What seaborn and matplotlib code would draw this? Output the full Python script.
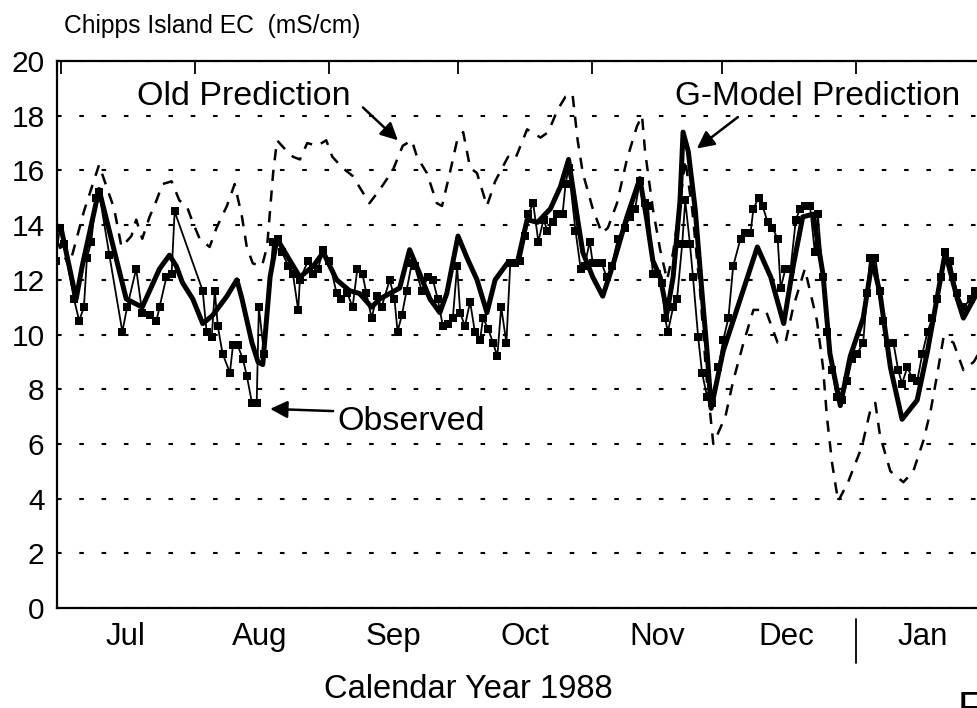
import numpy as np
import pandas as pd
import matplotlib
matplotlib.use('Agg')
import matplotlib.pyplot as plt
import matplotlib.transforms as mtransforms
import seaborn as sns

# x values are days after 1 July 1988
obs_day = [-1.2, -0.3, 0.7, 3.0, 4.2, 5.3, 6.0, 7.0, 8.1, 8.8, 11.2, 14.2, 15.3, 17.4, 18.8,
           20.5, 22.1, 22.8, 24.4, 25.6, 26.3, 32.8, 33.7, 34.9, 35.6, 36.3, 37.4, 39.1, 39.8,
           40.9, 42.1, 43.0, 44.2, 45.3, 45.8, 47.0, 49.1, 50.2, 51.2, 52.6, 53.7, 54.9, 55.3,
           57.2, 58.4, 59.5, 60.7, 62.1, 63.8, 64.9, 66.3, 67.5, 68.6, 69.8, 70.7, 71.9, 73.1,
           74.2, 76.1, 77.2, 77.9, 78.9, 80.0, 81.2, 81.9, 83.5, 84.9, 86.1, 87.2, 88.4, 89.6,
           90.7, 91.7, 92.4, 93.5, 94.7, 95.8, 97.0, 97.7, 98.9, 100.0, 101.0, 101.9, 103.1,
           104.0, 105.1, 106.3, 107.5, 108.2, 109.3, 110.5, 111.7, 112.6, 113.8, 114.9, 116.1,
           116.8, 117.5, 119.1, 120.3, 121.2, 122.4, 123.1, 124.3, 125.2, 126.3, 127.5, 128.9,
           130.5, 131.7, 132.9, 134.0, 135.2, 135.9, 137.0, 138.0, 139.1, 139.8, 140.5, 141.7,
           142.6, 143.8, 144.5, 145.6, 146.3, 147.5, 148.4, 149.6, 150.8, 152.2, 153.3, 154.5,
           155.6, 157.3, 158.4, 159.6, 160.3, 161.5, 162.4, 163.6, 164.7, 165.9, 166.6, 167.7,
           168.9, 170.1, 171.1, 172.2, 173.4, 174.5, 175.2, 176.4, 177.3, 178.5, 179.6, 180.8,
           182.0, 183.1, 184.3, 185.7, 186.6, 187.3, 188.5, 189.6, 190.3, 191.5, 192.7, 193.8,
           194.7, 195.9, 197.1, 198.2, 199.4, 200.6, 201.7, 202.9, 203.6, 204.7, 205.9, 206.6,
           207.5, 208.9, 210.6, 211.7]
obs_ec = [12.7, 13.9, 13.3, 11.3, 10.5, 11.0, 12.8, 13.4, 15.0, 15.2, 12.9, 10.1, 11.0, 12.4, 10.8,
          10.7, 10.5, 11.0, 12.1, 12.2, 14.5, 11.6, 10.1, 9.9, 11.6, 10.3, 9.3, 8.6, 9.6,
          9.6, 9.1, 8.5, 7.5, 7.5, 11.0, 9.3, 13.4, 13.5, 13.0, 12.5, 12.2, 10.9, 12.0,
          12.7, 12.2, 12.4, 13.1, 12.7, 11.5, 11.3, 11.5, 11.0, 12.4, 12.2, 11.5, 10.6, 11.4,
          11.0, 12.0, 11.3, 10.1, 10.7, 11.6, 12.6, 12.5, 11.6, 12.1, 12.0, 11.3, 10.3, 10.4,
          10.6, 12.5, 10.8, 10.3, 11.2, 10.1, 9.8, 10.6, 10.2, 9.7, 9.2, 11.0, 9.7,
          12.6, 12.6, 12.7, 13.6, 14.4, 14.8, 13.4, 14.2, 13.8, 14.1, 14.4, 14.4,
          15.5, 16.1, 13.8, 12.4, 12.5, 13.4, 12.6, 12.6, 12.6, 12.1, 12.5, 13.5,
          13.9, 14.3, 14.6, 15.6, 14.8, 14.7, 12.2, 12.2, 11.9, 10.6, 10.1, 11.0,
          11.3, 13.3, 14.9, 13.3, 12.1, 9.9, 8.6, 7.7, 7.5, 8.8, 9.8, 10.6,
          12.5, 13.5, 13.7, 13.7, 14.6, 15.0, 14.7, 14.1, 13.9, 13.5, 11.7, 12.4,
          12.4, 14.2, 14.6, 14.7, 14.7, 13.0, 14.4, 12.1, 10.1, 8.7, 7.7, 7.6,
          8.3, 9.1, 9.3, 9.7, 11.5, 12.8, 12.8, 11.6, 10.5, 9.7, 9.7, 8.7,
          8.2, 8.8, 8.4, 8.3, 9.3, 10.1, 10.6, 11.3, 12.1, 13.0, 12.7, 12.1,
          11.5, 11.0, 11.3, 11.6]

gmod_day = [-1.2, 0.0, 3.5, 4.9, 8.8, 15.1, 18.8, 22.8, 25.1, 26.7, 28.1, 30.5, 32.8, 35.1, 38.4,
            40.7, 41.9, 44.2, 45.6, 46.7, 48.4, 50.0, 53.0, 55.3, 58.4, 60.7, 63.8, 66.8, 69.1,
            71.9, 73.8, 76.1, 78.4, 80.7, 83.1, 85.4, 87.7, 89.3, 91.9, 94.0, 96.3, 98.6, 100.5,
            103.3, 105.6, 107.9, 110.3, 113.3, 115.6, 117.5, 119.6, 120.8, 123.1, 125.4, 127.7,
            131.0, 134.0, 135.6, 137.0, 138.7, 140.3, 141.7, 143.3, 144.0, 145.2, 146.8, 148.4,
            149.6, 150.5, 153.3, 155.6, 161.2, 164.3, 167.3, 169.5, 171.7, 174.1, 176.4, 178.0,
            180.4, 182.7, 185.7, 187.8, 189.6, 192.0, 194.7, 198.2, 200.6, 204.7, 207.5, 208.9,
            211.3, 212.4]
gmod_ec = [14.0, 13.9, 11.3, 12.5, 15.3, 11.3, 11.0, 12.4, 12.9, 12.5, 11.9, 11.3, 10.4, 10.7, 11.4,
           12.0, 11.3, 9.7, 9.0, 8.9, 12.1, 13.5, 12.7, 12.1, 12.5, 13.0, 12.0, 11.6, 11.5,
           11.0, 11.3, 11.5, 11.7, 13.1, 12.2, 11.3, 10.8, 11.5, 13.6, 12.8, 12.0, 10.8, 12.0,
           12.6, 12.6, 14.2, 14.1, 14.6, 15.4, 16.4, 14.2, 13.0, 12.1, 11.4, 12.5,
           14.3, 15.7, 14.2, 12.7, 12.1, 10.8, 12.1, 14.9, 17.4, 16.7, 14.6, 11.5,
           9.3, 7.3, 9.4, 10.5, 13.2, 12.1, 10.4, 12.5, 14.3, 14.4, 12.2, 9.3,
           7.4, 9.2, 10.6, 12.7, 11.5, 8.8, 6.9, 7.6, 9.4, 13.0, 11.3, 10.6,
           11.3, 11.6]

old_day = [-1.2, 1.9, 5.3, 8.8, 12.3, 14.0, 16.3, 17.4, 18.8, 20.5, 22.1, 23.5, 25.6, 27.4, 29.1,
           30.5, 32.1, 34.4, 36.0, 38.4, 40.2, 41.9, 43.0, 44.4, 46.5, 47.7, 49.1, 50.0, 52.3,
           53.7, 55.3, 57.0, 59.3, 61.4, 62.8, 65.1, 67.5, 71.4, 73.8, 76.8, 79.1, 81.2, 82.4,
           84.7, 87.0, 88.2, 90.0, 91.7, 93.1, 94.7, 96.3, 98.6, 100.5, 103.5, 105.1, 107.9,
           111.0, 112.8, 114.9, 116.8, 118.4, 119.6, 120.8, 123.1, 125.2, 126.6, 128.7, 131.0,
           133.3, 134.5, 135.2, 137.0, 138.7, 140.3, 141.7, 143.3, 144.5, 146.1, 148.0, 149.4,
           151.0, 153.8, 155.6, 158.0, 160.3, 163.1, 165.9, 167.7, 169.5, 172.2, 175.0, 176.4,
           177.3, 178.5, 179.9, 182.2, 185.4, 187.3, 188.5, 189.6, 192.0, 195.0, 197.3, 199.6,
           201.3, 202.9, 204.3, 206.6, 208.9, 211.3, 212.4]
old_ec = [13.5, 12.5, 14.5, 16.2, 14.6, 13.2, 13.6, 14.2, 13.5, 14.3, 14.9, 15.5, 15.6, 14.9, 14.7,
          14.1, 13.5, 13.2, 13.9, 14.7, 15.5, 14.3, 13.2, 12.6, 12.5, 13.2, 15.9, 17.1, 16.7,
          16.5, 16.4, 17.0, 16.9, 17.1, 16.5, 16.1, 15.8, 14.8, 15.3, 16.0, 16.9, 17.1, 16.5,
          15.9, 14.8, 14.7, 15.9, 17.1, 17.4, 16.1, 15.9, 14.7, 15.6, 16.5, 16.4, 17.5,
          17.2, 17.4, 18.2, 18.7, 18.8, 17.1, 15.9, 14.6, 13.7, 13.9, 14.8, 16.4,
          17.6, 18.0, 16.7, 14.6, 13.1, 12.0, 13.0, 14.8, 16.4, 14.6, 11.5, 8.5,
          6.0, 7.0, 8.3, 9.7, 10.9, 10.9, 9.7, 9.7, 11.0, 12.4, 10.5, 8.8,
          7.0, 5.3, 3.9, 4.6, 5.9, 7.2, 7.5, 6.3, 5.0, 4.6, 5.0, 6.1,
          7.2, 8.6, 9.9, 9.7, 8.7, 9.0, 9.3]

month_start = [0, 31, 62, 92, 123, 153, 184]
month_mid = [15, 46, 77, 107.5, 138, 168, 199.5]
month_names = ['Jul', 'Aug', 'Sep', 'Oct', 'Nov', 'Dec', 'Jan']
ec_ticks = list(range(0, 21, 2))

sns.set_theme(style='white')
plt.rcParams['font.family'] = ['Liberation Sans', 'DejaVu Sans']
plt.rcParams['text.color'] = 'black'
plt.rcParams['xtick.color'] = 'black'
plt.rcParams['ytick.color'] = 'black'

fig = plt.figure(figsize=(9.77, 7.08), dpi=100)
ax = fig.add_axes([57 / 977, 100 / 708, 928 / 977, 547 / 708])

sns.lineplot(x=old_day, y=old_ec, ax=ax, color='black', lw=1.8,
             linestyle=(0, (4.5, 3.8)))
sns.lineplot(x=obs_day, y=obs_ec, ax=ax, color='black', lw=1.3,
             marker='s', markersize=5.5, markeredgewidth=0)
sns.lineplot(x=gmod_day, y=gmod_ec, ax=ax, color='black', lw=3.6)

ax.set_xlim(-0.93, 213.9)
ax.set_ylim(0, 20)

# y axis
ax.set_yticks(ec_ticks)
ax.set_yticklabels([str(v) for v in ec_ticks], fontsize=21.5)
ax.tick_params(axis='y', direction='in', length=9, width=1.5, pad=9)
ax.yaxis.grid(True, color='black', lw=1.5, linestyle=(0, (2.2, 8.5)))
ax.set_axisbelow(True)

# x axis: month boundaries as ticks, names centred in each month
ax.set_xticks(month_start)
ax.set_xticklabels([])
ax.set_xticks(month_mid, minor=True)
ax.set_xticklabels(month_names, minor=True, fontsize=22.5)
ax.tick_params(axis='x', which='major', direction='inout', length=19, width=1.3)
ax.tick_params(axis='x', which='minor', length=0, pad=10)
ax.set_xlabel('')
ax.set_ylabel('')

top = ax.secondary_xaxis('top')
top.set_xticks(month_start)
top.tick_params(direction='in', length=9, width=1.3, labeltop=False)
top.spines['top'].set_visible(False)

for side in ['left', 'bottom', 'top']:
    ax.spines[side].set_linewidth(1.6)
    ax.spines[side].set_color('black')
ax.spines['right'].set_visible(False)

# longer tick at the turn of the year
trans = mtransforms.blended_transform_factory(ax.transData, ax.transAxes)
ax.plot([month_start[-1], month_start[-1]], [-0.02, -0.1], transform=trans,
        color='black', lw=1.3, clip_on=False)

arrow = dict(arrowstyle='-|>', color='black', lw=1.8, mutation_scale=26,
             shrinkA=0, shrinkB=0)
ax.text(17.6, 18.39, 'Old Prediction', fontsize=24.5, va='baseline', ha='left')
ax.annotate('', xy=(78.0, 17.1), xytext=(69.9, 18.3), arrowprops=arrow)
ax.text(142.1, 18.39, 'G-Model Prediction', fontsize=24, va='baseline', ha='left')
ax.annotate('', xy=(147.2, 16.8), xytext=(156.7, 17.95), arrowprops=arrow)
ax.text(63.9, 6.51, 'Observed', fontsize=24.5, va='baseline', ha='left')
ax.annotate('', xy=(48.4, 7.28), xytext=(63.0, 7.2), arrowprops=arrow)

fig.text(64 / 977, 1 - 33 / 708, 'Chipps Island EC  (mS/cm)', fontsize=17.7,
         va='baseline', ha='left')
fig.text(468 / 977, 1 - 698 / 708, 'Calendar Year 1988', fontsize=23.5,
         va='baseline', ha='center')
fig.text(958 / 977, 1 - 690 / 708, 'F', fontsize=30, va='top', ha='left')

fig.savefig('out.png', dpi=100, facecolor='white')
